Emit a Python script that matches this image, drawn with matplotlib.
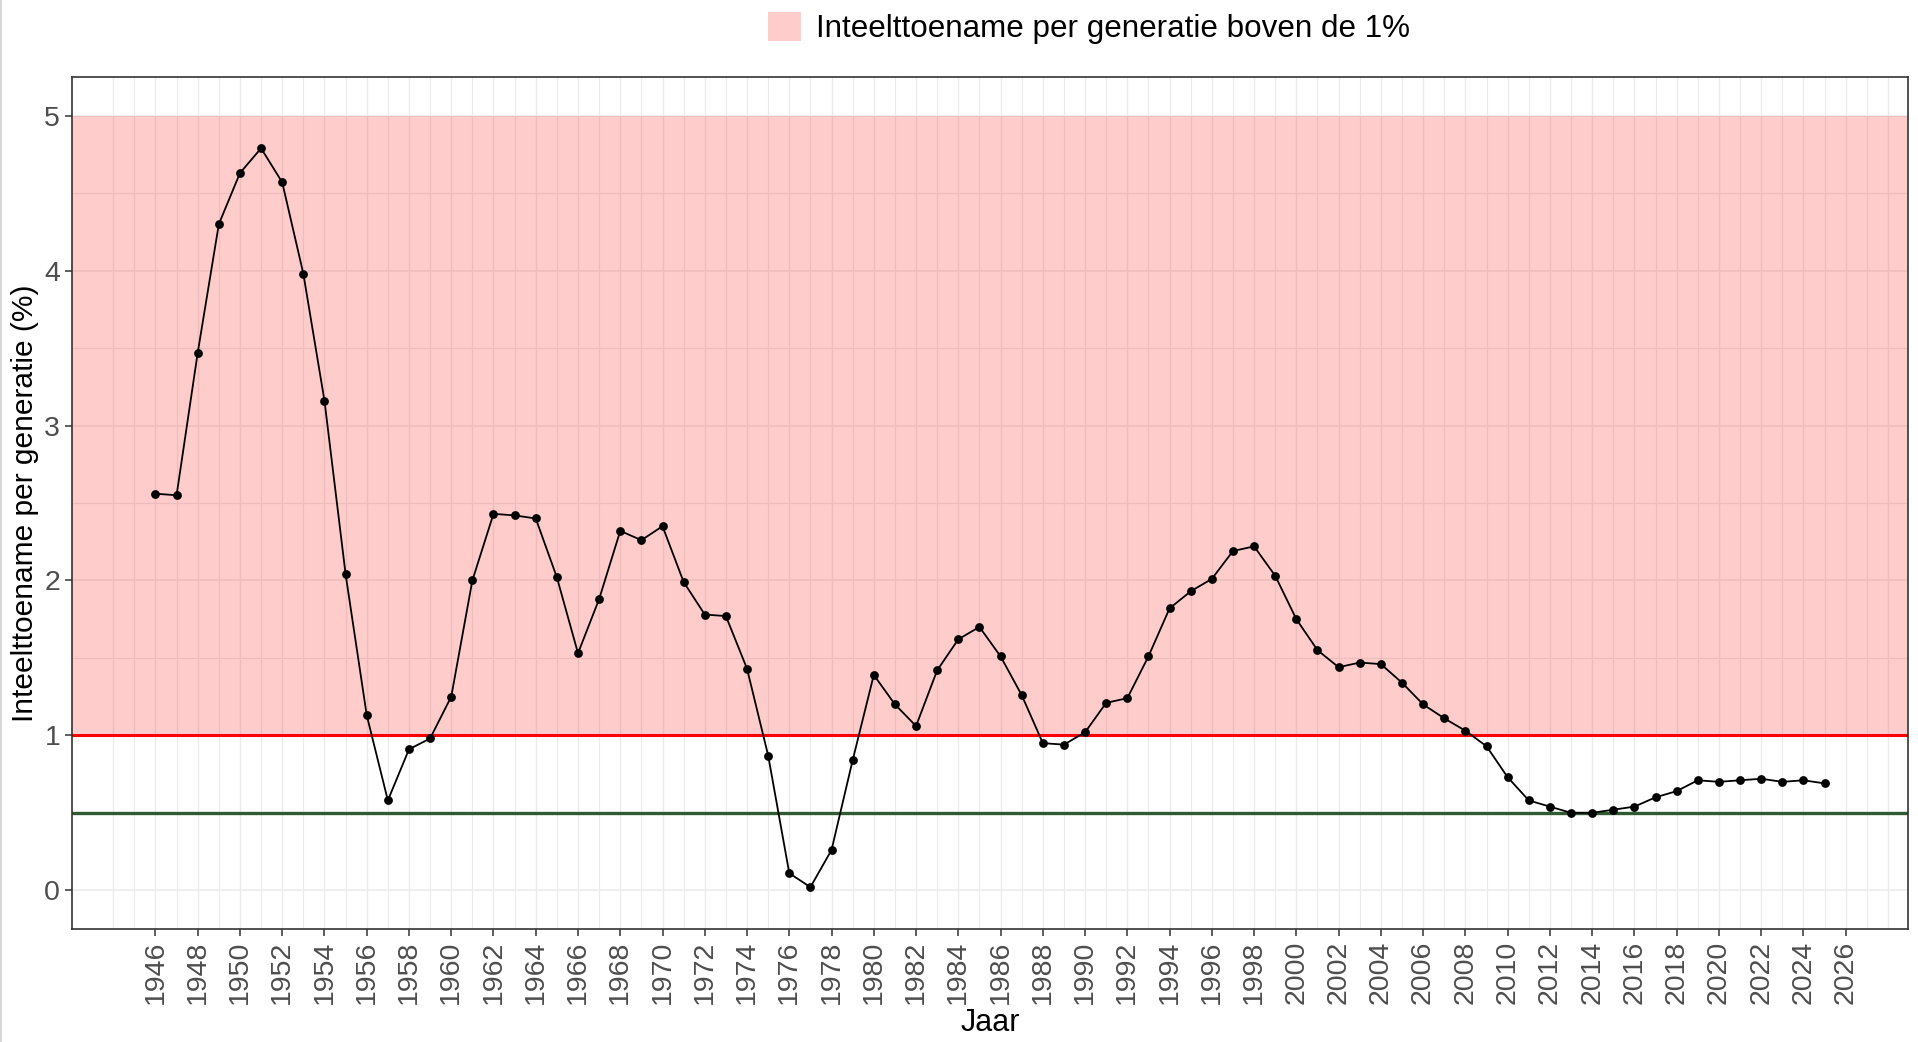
import matplotlib
matplotlib.use("Agg")
import matplotlib.pyplot as plt
from matplotlib.patches import Patch
from matplotlib.lines import Line2D
import numpy as np

plt.rcParams['font.family'] = ['Liberation Sans', 'DejaVu Sans']

years = list(range(1946, 2026))
values = [2.56, 2.55, 3.47, 4.30, 4.63, 4.79, 4.57, 3.98, 3.16, 2.04,
          1.13, 0.58, 0.91, 0.98, 1.25, 2.00, 2.43, 2.42, 2.40, 2.02,
          1.53, 1.88, 2.32, 2.26, 2.35, 1.99, 1.78, 1.77, 1.43, 0.87,
          0.11, 0.02, 0.26, 0.84, 1.39, 1.20, 1.06, 1.42, 1.62, 1.70,
          1.51, 1.26, 0.95, 0.94, 1.02, 1.21, 1.24, 1.51, 1.82, 1.93,
          2.01, 2.19, 2.22, 2.03, 1.75, 1.55, 1.44, 1.47, 1.46, 1.34,
          1.20, 1.11, 1.03, 0.93, 0.73, 0.58, 0.54, 0.50, 0.50, 0.52,
          0.54, 0.60, 0.64, 0.71, 0.70, 0.71, 0.72, 0.70, 0.71, 0.69]
x_tick_years = list(range(1946, 2027, 2))
y_ticks = [0, 1, 2, 3, 4, 5]
threshold_red = 1.0
threshold_green = 0.5
band = (1.0, 5.0)
legend_label = "Inteelttoename per generatie boven de 1%"

fig = plt.figure(figsize=(19.18, 10.42), dpi=100)
ax = fig.add_axes([72/1918, 1-929/1042, (1908-72)/1918, (929-77)/1042])

xmin, xmax = min(years), max(years)
pad = (xmax - xmin) * 0.05
ax.set_xlim(xmin - pad, xmax + pad)
ax.set_ylim(-0.25, 5.25)

# grid lines
for yr in range(1944, 2029):
    ax.axvline(yr, color='#EBEBEB', lw=1.0 if yr % 2 == 0 else 0.8, zorder=0)
for yv in np.arange(0, 5.01, 0.5):
    ax.axhline(yv, color='#EBEBEB', lw=1.1 if yv % 1 == 0 else 0.8, zorder=0)

ax.axhspan(band[0], band[1], color='red', alpha=0.2, lw=0, zorder=1)
ax.axhline(threshold_red, color='#FF0000', lw=2.2, zorder=2)
ax.axhline(threshold_green, color='#2F5A32', lw=2.4, zorder=2)

ax.plot(years, values, color='black', lw=1.3, zorder=3)
ax.scatter(years, values, color='black', s=40, zorder=4, linewidths=0)

ax.set_xticks(x_tick_years)
ax.set_xticklabels([str(y) for y in x_tick_years], rotation=90)
ax.set_yticks(y_ticks)
ax.tick_params(axis='both', colors='#333333', labelcolor='#4D4D4D', labelsize=20.5,
               length=5, width=1.1)
for s in ax.spines.values():
    s.set_color('#333333')
    s.set_linewidth(1.2)

ax.set_xlabel("Jaar", fontsize=22, color='black', labelpad=3)
ax.set_ylabel("Inteelttoename per generatie (%)", fontsize=21.5, color='black', labelpad=4)

handle = Patch(facecolor=(1, 0, 0, 0.2), edgecolor='none')
fig.legend(handles=[handle], labels=[legend_label], loc='center',
           bbox_to_anchor=(1089/1918, 1-28/1042), frameon=False, fontsize=22.6,
           handlelength=1.05, handleheight=1.05, handletextpad=0.45)

fig.add_artist(Line2D([0.5/1918, 0.5/1918], [0, 1], color='#D0D0D0', lw=1.2,
                      transform=fig.transFigure))

fig.savefig("out.png", dpi=100, facecolor='white')
